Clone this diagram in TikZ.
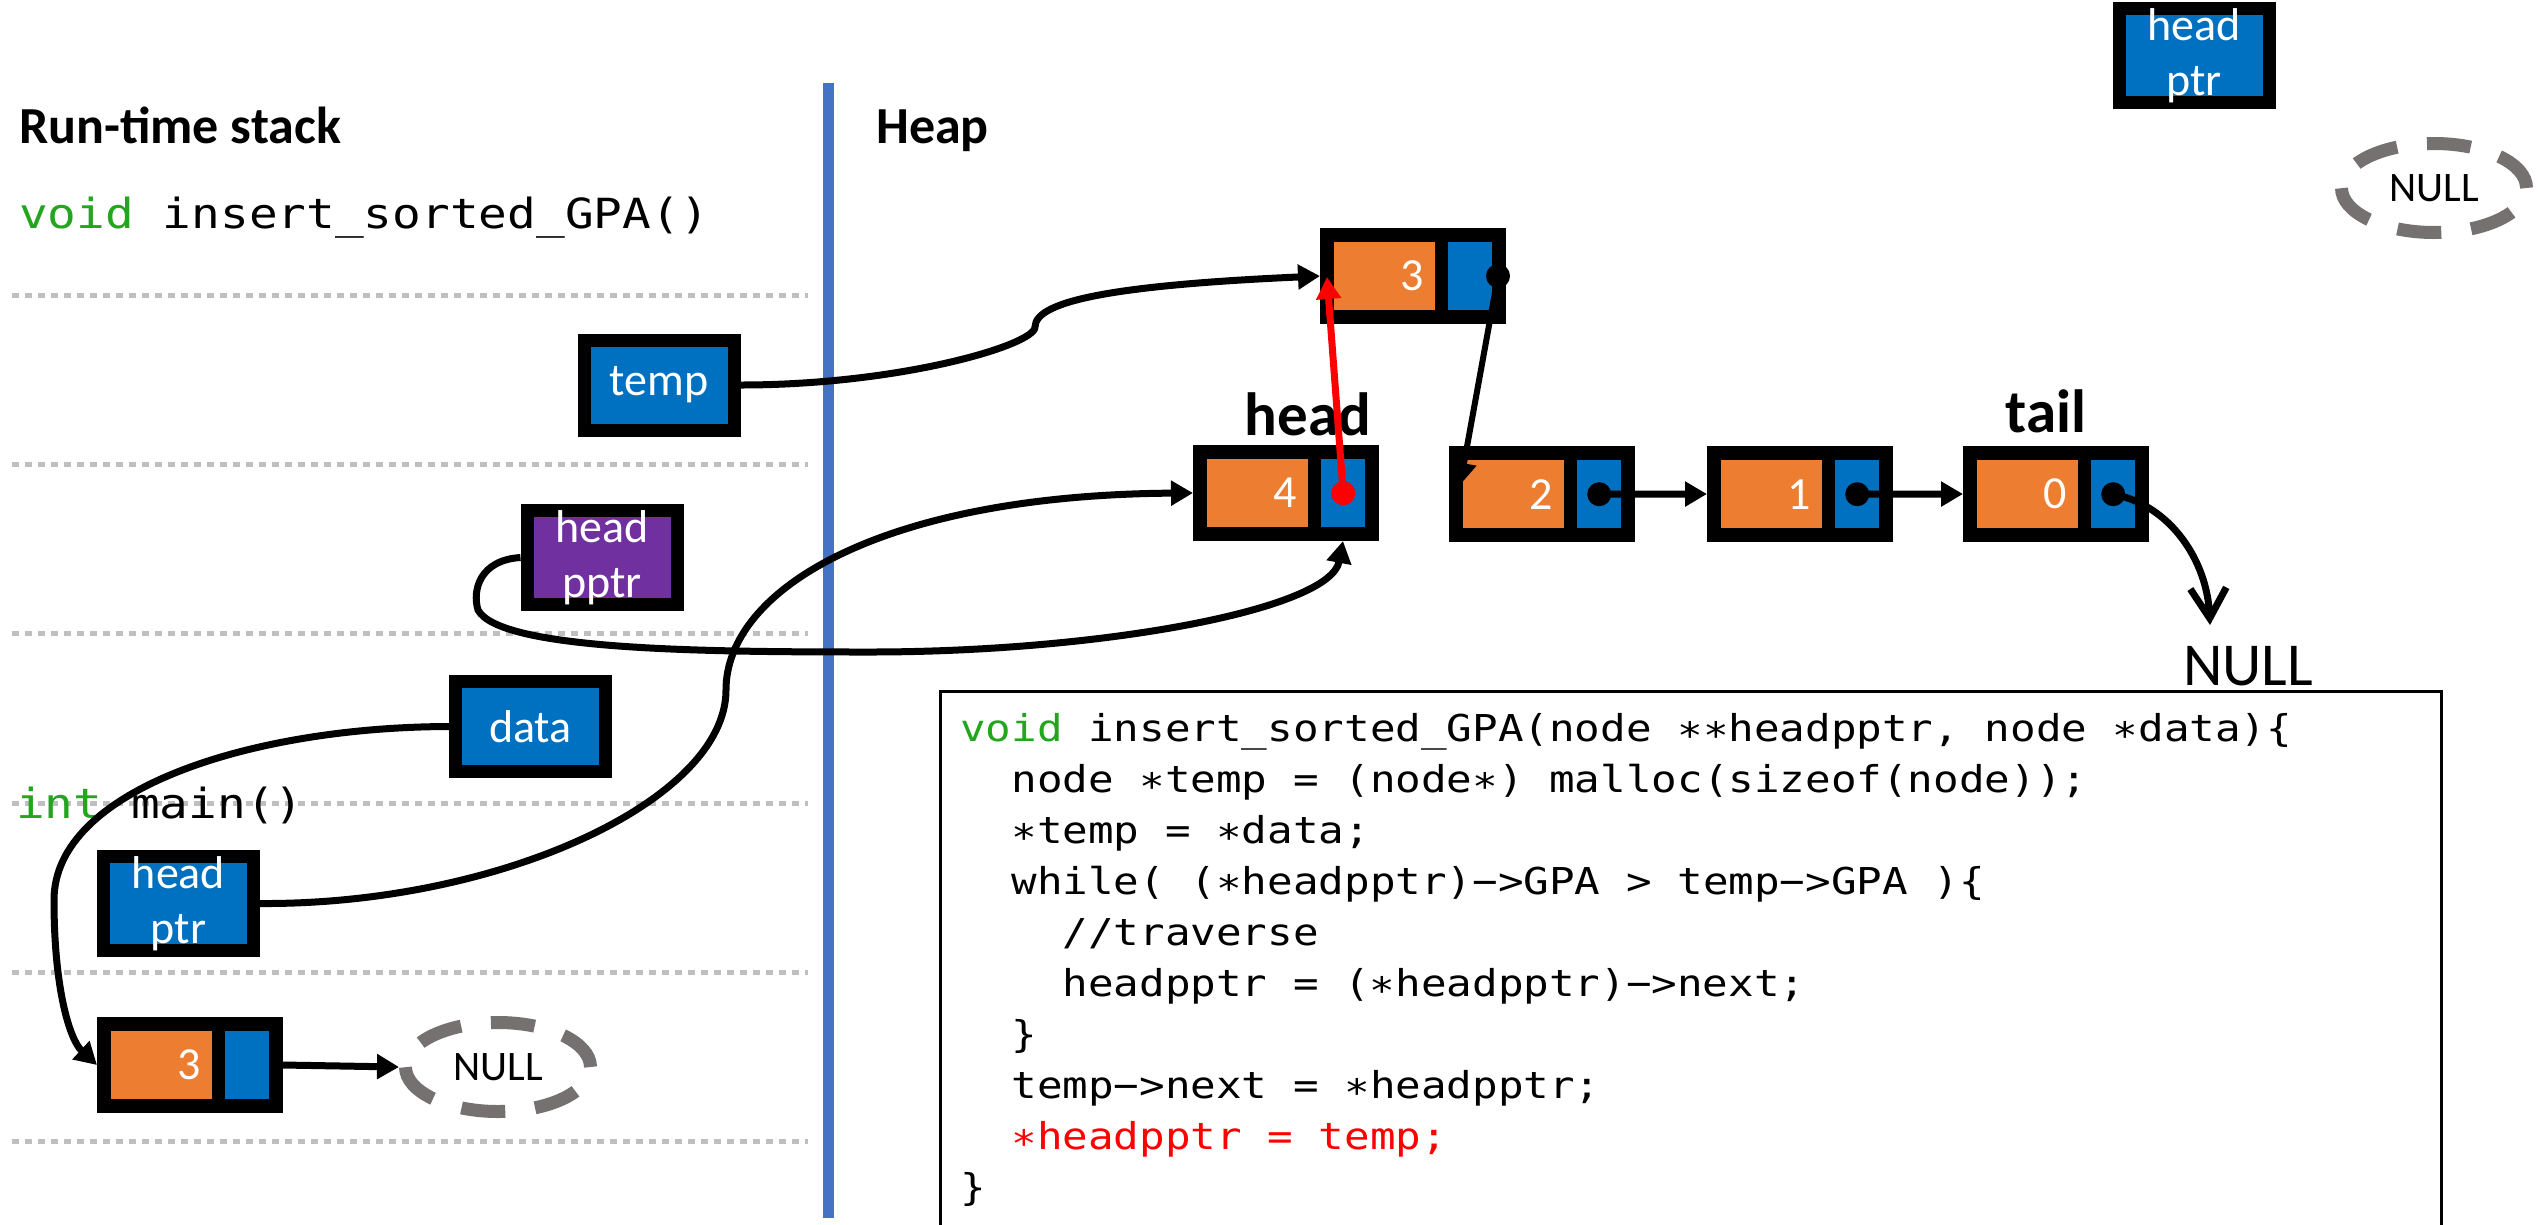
\documentclass[tikz,border=0pt]{standalone}
\usepackage{fontspec}
\setmainfont{Carlito}
\newfontfamily\codefont[FakeStretch=1.15]{DejaVu Sans Mono}
\usetikzlibrary{arrows.meta,calc,shapes.geometric}

\definecolor{nodeorange}{RGB}{237,125,49}
\definecolor{ptrblue}{RGB}{0,112,192}
\definecolor{pptrpurple}{RGB}{112,48,160}
\definecolor{nullgray}{RGB}{118,113,113}
\definecolor{rulegray}{RGB}{191,191,191}
\definecolor{divblue}{RGB}{68,114,196}
\definecolor{kwgreen}{RGB}{36,165,30}
\definecolor{hotred}{RGB}{255,0,0}

% font sizes (1pt = 1 unit of the picture)
\newcommand\fHead{\fontsize{52}{62}\selectfont\bfseries}
\newcommand\fLabel{\fontsize{61}{70}\selectfont\bfseries}
\newcommand\fBox{\fontsize{46}{55}\selectfont}
\newcommand\fCell{\fontsize{46}{55}\selectfont}
\newcommand\fNull{\fontsize{42}{50}\selectfont}
\newcommand\fBigNull{\fontsize{61}{70}\selectfont}
\newcommand\fStack{\codefont\fontsize{41.5}{50}\selectfont}
\newcommand\fCode{\codefont\fontsize{37}{51}\selectfont}

\tikzset{
  conn/.style={draw=black, line width=7pt},
  ptrbox/.style={draw=black, line width=13pt, fill=ptrblue, minimum width=150pt,
    minimum height=90pt, inner sep=0pt, text=white, font=\fBox, align=center},
  cellframe/.style={fill=black, minimum width=186pt, minimum height=96pt,
    inner sep=0pt, outer sep=0pt, anchor=north west},
  valcell/.style={fill=nodeorange, minimum width=101pt, minimum height=68pt,
    inner sep=0pt, text width=79pt, align=right, text=white, font=\fCell,
    anchor=north west},
  ptrcell/.style={fill=ptrblue, minimum width=44pt, minimum height=68pt,
    inner sep=0pt, anchor=north west},
  nullring/.style={ellipse, draw=nullgray, line width=13pt,
    dash pattern=on 44pt off 30pt, minimum width=185pt, minimum height=89pt,
    inner sep=0pt, font=\fNull},
  stackrule/.style={draw=rulegray, line width=5pt, dash pattern=on 7pt off 6pt},
  heading/.style={anchor=base west, inner sep=0pt, font=\fHead},
  stacktext/.style={anchor=base west, inner sep=0pt, font=\fStack},
  codeline/.style={anchor=base west, inner sep=0pt, font=\fCode},
  tri/.style={-{Triangle[length=22pt,width=24pt]}},
}

% a list node: name, top-left x, top-left y, value
\newcommand\listnode[4]{%
  \node[cellframe] (#1) at (#2,#3) {};
  \node[valcell] (#1-v) at (#2+14,#3+14) {#4};
  \node[ptrcell] (#1-p) at (#2+128,#3+14) {};
}

\begin{document}
\begin{tikzpicture}[x=1pt,y=-1pt]
\useasboundingbox (0,0) rectangle (2539,1224);

% stack frame separators
\foreach \yy in {295,464,633,803,972,1141}
  \draw[stackrule] (12,\yy) -- (808,\yy);

% stack / heap divider
\draw[divblue, line width=11pt] (828,83) -- (828,1218);

% headings
\node[heading] (hStack) at (19,143) {Run-time stack};
\node[heading] (hHeap) at (876,143) {Heap};
\node[stacktext] (fnIns) at (19,228) {{\color{kwgreen}void} insert\_sorted\_GPA()};
\node[stacktext] (fnMain) at (16,818) {{\color{kwgreen}int} main()};

% stack variables
\node[ptrbox] (temp) at (659,385) {temp};
\node[ptrbox, fill=pptrpurple] (hpp) at (602,557.5) {head\\pptr};
\node[ptrbox] (data) at (530.5,726.5) {data};
\node[ptrbox] (mhp) at (178.5,903.5) {head\\ptr};
\listnode{mn3}{97}{1017}{3}
\node[nullring] (nullA) at (498,1067) {NULL};

% stray items at the top right
\node[ptrbox] (hpTop) at (2194,55.5) {head\\ptr};
\node[nullring] (nullTop) at (2434,188) {NULL};

% heap list
\listnode{t3}{1320}{228}{3}
\listnode{h4}{1193}{445}{4}
\listnode{n2}{1449}{446}{2}
\listnode{n1}{1707}{446}{1}
\listnode{n0}{1963}{446}{0}
\node[font=\fLabel, anchor=base, inner sep=0pt] (lblHead) at (1308,435) {head};
\node[font=\fLabel, anchor=base, inner sep=0pt] (lblTail) at (2046,432) {tail};
\node[font=\fBigNull, anchor=base, inner sep=0pt] (nullT) at (2248,685) {NULL};
\coordinate (nullTin) at (2210,625);

% code listing
\draw[line width=3pt] (940,1230) -- (940,691) -- (2441,691) -- (2441,1230);
\node[codeline] (c1) at (960,741) {{\color{kwgreen}void} insert\_sorted\_GPA(node ∗∗headpptr, node ∗data)\{};
\node[codeline] (c2) at (1011.2,792) {node ∗temp = (node∗) malloc(sizeof(node));};
\node[codeline] (c3) at (1011.2,843) {∗temp = ∗data;};
\node[codeline] (c4) at (1011.2,894) {while( (∗headpptr)−>GPA > temp−>GPA )\{};
\node[codeline] (c5) at (1062.4,945) {//traverse};
\node[codeline] (c6) at (1062.4,996) {headpptr = (∗headpptr)−>next;};
\node[codeline] (c7) at (1011.2,1047) {\}};
\node[codeline] (c8) at (1011.2,1098) {temp−>next = ∗headpptr;};
\node[codeline, text=hotred] (c9) at (1011.2,1149) {∗headpptr = temp;};
\node[codeline] (c10) at (960,1200) {\}};

% pointer dots
\coordinate (t3dot) at ($(t3.east)+(-8,0)$);
\fill (t3dot) circle (12pt);
\fill (n2-p.center) circle (12pt);
\fill (n1-p.center) circle (12pt);
\fill (n0-p.center) circle (12pt);

% connectors
\draw[conn, tri] (temp.east) .. controls (900,385) and (1035,345) .. (1035,327)
  .. controls (1035,300) and (1120,285) .. (t3.west);
\draw[conn, tri] (mhp.east) .. controls (500,905) and (726,800) .. (726,690)
  .. controls (726,590) and (880,495) .. (h4.west);
\draw[conn, tri] (hpp.west) .. controls (480,560) and (472,590) .. (478,610)
  .. controls (500,650) and (700,652) .. (870,652)
  .. controls (1100,652) and (1330,610) .. ($(h4.south east)+(-36,0)$);
\draw[conn, tri] (data.west) .. controls (250,727) and (54,790) .. (54,900)
  .. controls (54,990) and (70,1040) .. (mn3.west);
\draw[conn, tri] (mn3.east) -- (nullA.west);
\draw[conn, line width=6pt, tri] (t3dot) -- ($(n2.north west)+(11,39)$);
\draw[conn, tri] (n2-p.center) -- (n1.west);
\draw[conn, tri] (n1-p.center) -- (n0.west);
\draw[conn, -{Straight Barb[length=30pt,width=36pt]}] (n0-p.center)
  .. controls (2170,505) and (2207,560) .. (nullTin);

% the new link from head
\draw[hotred, line width=7pt, tri] (h4-p.center) -- ($(t3.west)+(7,1)$);
\fill[hotred] (h4-p.center) circle (12pt);
\end{tikzpicture}
\end{document}
